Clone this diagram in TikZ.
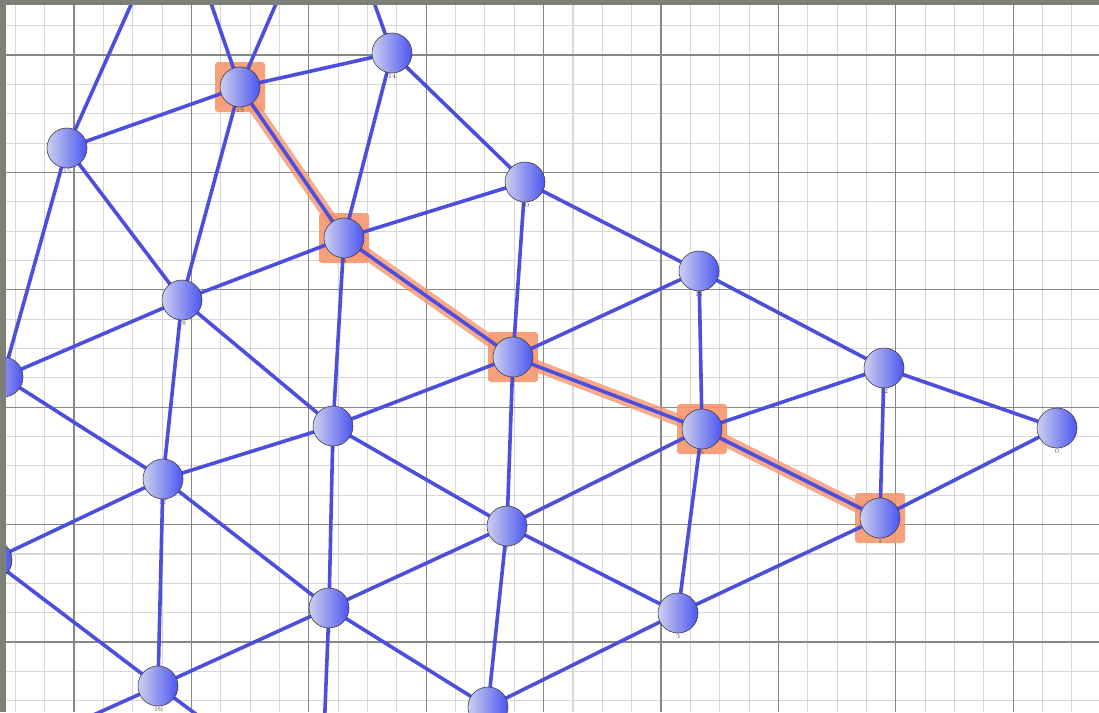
\documentclass[tikz,border=0pt]{standalone}
\pgfdeclarelayer{gridlayer}
\pgfdeclarelayer{hllayer}
\pgfdeclarelayer{edgelayer}
\pgfsetlayers{gridlayer,hllayer,edgelayer,main}
\definecolor{vl}{RGB}{205,208,240}
\definecolor{vr}{RGB}{75,85,240}
\definecolor{eb}{RGB}{78,78,222}
\definecolor{hlc}{RGB}{246,150,110}
\definecolor{gmin}{RGB}{215,215,215}
\definecolor{gmaj}{RGB}{135,135,135}
\definecolor{frame}{RGB}{125,128,118}
\tikzset{
  vtx/.style={circle, minimum size=40pt, inner sep=0pt, draw=black!75, line width=0.6pt,
    left color=vl, right color=vr, label distance=2pt},
  lbl/.style={font=\fontsize{7}{7}\selectfont, text=black!70, inner sep=0pt},
  edge/.style={draw=eb, line width=3.6pt},
  hlpath/.style={draw=hlc, line width=12pt, opacity=0.8, line cap=round, line join=round},
  hlbox/.style={fill=hlc, rounded corners=3pt, minimum size=50pt, inner sep=0pt, opacity=0.9},
  minorline/.style={draw=gmin, line width=1.1pt},
  majorline/.style={draw=gmaj, line width=1.1pt}
}
\begin{document}
\begin{tikzpicture}[x=1pt,y=-1pt]
\useasboundingbox (0,0) rectangle (1099,712);
% grid
\begin{pgfonlayer}{gridlayer}
\fill[white] (0,0) rectangle (1099,712);
\foreach \i in {0,...,37} \draw[minorline] ({15.3+\i*29.35},0) -- ++(0,712);
\foreach \i in {0,...,24} \draw[minorline] (0,{25.65+\i*29.35}) -- ++(1099,0);
\foreach \i in {0,...,8} \draw[majorline] ({74+\i*117.4},0) -- ++(0,712);
\foreach \i in {0,...,5} \draw[majorline] (0,{55+\i*117.4}) -- ++(1099,0);
\end{pgfonlayer}
% vertices
\node[vtx, label={[lbl]below:19}] (n19) at (240,87) {};
\node[vtx, label={[lbl]below:14}] (n14) at (392,53) {};
\node[vtx, label={[lbl]below:15}] (n15) at (67,148) {};
\node[vtx, label={[lbl]below:10}] (n10) at (525,182) {};
\node[vtx, label={[lbl]below:9}] (n9) at (344,238) {};
\node[vtx, label={[lbl]below:11}] (n11) at (699,271) {};
\node[vtx, label={[lbl]below:18}] (n18) at (182,300) {};
\node[vtx, label={[lbl]below:8}] (n8) at (513,357) {};
\node[vtx, label={[lbl]below:12}] (n12) at (884,368) {};
\node[vtx, label={[lbl]below:4}] (n4) at (3,377) {};
\node[vtx, label={[lbl]below:2}] (n2) at (333,426) {};
\node[vtx, label={[lbl]below:6}] (n6) at (702,429) {};
\node[vtx, label={[lbl]below:0}] (n0) at (1057,428) {};
\node[vtx, label={[lbl]below:17}] (n17) at (163,479) {};
\node[vtx, label={[lbl]below:7}] (n7) at (507,526) {};
\node[vtx, label={[lbl]below:1}] (n1) at (880,518) {};
\node[vtx] (nl) at (-8,560) {};
\node[vtx, label={[lbl]below:5}] (n5) at (329,608) {};
\node[vtx, label={[lbl]below:3}] (n3) at (678,613) {};
\node[vtx, label={[lbl]below:16}] (n16) at (158,686) {};
\node[vtx] (nb) at (488,707) {};
% free ends outside the page
\coordinate (t1) at (151,-40);
\coordinate (t2) at (196,-40);
\coordinate (t3) at (295,-40);
\coordinate (t4) at (359,-40);
\coordinate (b1) at (-7,760);
\coordinate (b2) at (258,760);
\coordinate (b3) at (323,760);
% highlight
\begin{pgfonlayer}{hllayer}
\foreach \v in {n19,n9,n8,n6,n1} \node[hlbox] at (\v) {};
\draw[hlpath] (n19.center) -- (n9.center) -- (n8.center) -- (n6.center) -- (n1.center);
\end{pgfonlayer}
% edges
\begin{pgfonlayer}{edgelayer}
\foreach \a/\b in {t1/n15,t2/n19,t3/n19,t4/n14,
  n19/n14,n19/n15,n19/n9,n19/n18,n14/n9,n14/n10,
  n15/n18,n15/n4,n10/n9,n10/n11,n10/n8,
  n9/n18,n9/n8,n9/n2,n11/n8,n11/n6,n11/n12,
  n18/n4,n18/n2,n18/n17,n8/n6,n8/n2,n8/n7,
  n12/n6,n12/n0,n12/n1,n4/n17,n2/n17,n2/n5,n2/n7,
  n6/n1,n6/n7,n6/n3,n0/n1,n17/nl,n17/n5,n17/n16,
  n7/n5,n7/n3,n7/nb,n1/n3,n5/n16,n5/nb,n5/b3,n3/nb,
  nl/n16,n16/b1,n16/b2}
  \draw[edge] (\a.center) -- (\b.center);
\end{pgfonlayer}
% frame strips
\fill[frame] (0,0) rectangle (1099,5);
\fill[frame] (0,0) rectangle (6,712);
\end{tikzpicture}
\end{document}
